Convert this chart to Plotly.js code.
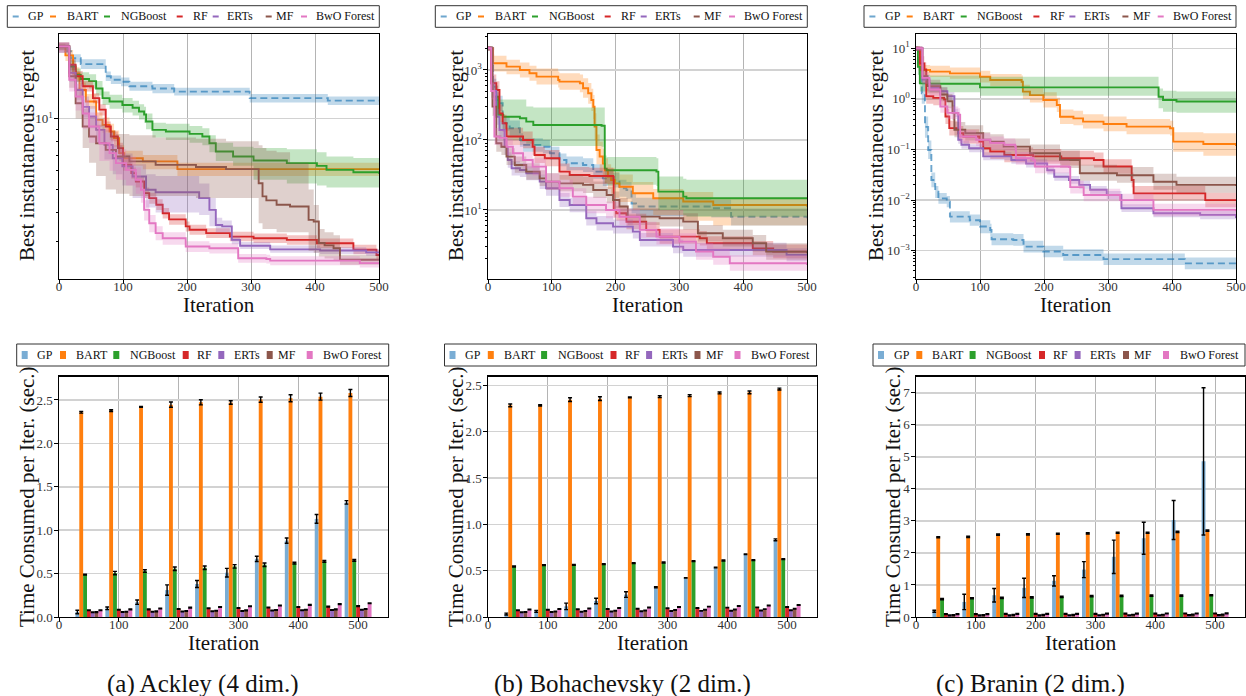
<!DOCTYPE html>
<html><head><meta charset="utf-8">
<script src="https://cdn.plot.ly/plotly-3.0.1.min.js"></script>
<style>html,body{margin:0;padding:0;background:#fff}#chart{width:1246px;height:696px}</style>
</head><body><div id="chart"></div>
<script>
// ---------------- data ----------------
const methods = ['GP','BART','NGBoost','RF','ERTs','MF','BwO Forest'];

// Ackley (4 dim.) best instantaneous regret (step curves: x, mean, lower, upper)
const ack_GP_x  = [0, 10, 19, 34, 73, 81, 97, 110, 146, 180, 298, 420, 500];
const ack_GP_y  = [20.2, 19.3, 18.0, 17.0, 15.1, 14.6, 14.3, 13.7, 13.4, 13.0, 12.2, 11.9, 11.9];
const ack_GP_lo = [19.8, 18.6, 17.3, 16.2, 14.4, 14.0, 13.7, 13.1, 12.8, 12.5, 11.7, 11.4, 11.4];
const ack_GP_hi = [20.6, 20.0, 18.7, 17.8, 15.8, 15.2, 14.9, 14.3, 14.0, 13.5, 12.7, 12.4, 12.4];

const ack_BART_x  = [0, 10, 22, 32, 42, 58, 68, 79, 86, 94, 102, 131, 185, 500];
const ack_BART_y  = [20.2, 18.5, 15.5, 13.2, 11.8, 9.87, 9.40, 8.81, 8.26, 7.13, 6.79, 6.58, 6.10, 6.06];
const ack_BART_lo = [19.6, 17.5, 14.5, 12.3, 11.0, 9.2, 8.7, 8.1, 7.6, 6.6, 6.3, 6.1, 5.7, 5.6];
const ack_BART_hi = [20.8, 19.5, 16.5, 14.2, 12.7, 10.6, 10.1, 9.5, 8.9, 7.7, 7.3, 7.0, 6.5, 6.5];

const ack_NGB_x  = [0, 16, 26, 34, 47, 58, 68, 79, 99, 115, 125, 133, 136, 146, 167, 204, 224, 235, 245, 272, 304, 356, 403, 418, 460, 500];
const ack_NGB_y  = [20.2, 16.6, 15.3, 14.7, 14.4, 13.4, 12.2, 11.8, 11.4, 11.1, 10.7, 10.4, 9.71, 8.95, 8.81, 8.61, 8.39, 7.86, 7.25, 6.90, 6.64, 6.47, 6.30, 6.06, 5.92, 5.83];
const ack_NGB_lo = [19.5, 15.5, 14.3, 13.7, 13.4, 12.5, 11.4, 11.0, 10.6, 10.3, 9.9, 9.6, 9.0, 8.3, 8.1, 7.9, 7.7, 7.2, 6.6, 6.3, 5.5, 5.3, 5.2, 5.1, 5.1, 5.1];
const ack_NGB_hi = [20.6, 17.6, 16.3, 15.7, 15.4, 14.4, 13.0, 12.6, 12.2, 11.9, 11.5, 11.2, 10.5, 9.6, 9.5, 9.3, 9.1, 8.5, 7.9, 7.6, 7.5, 7.4, 7.2, 6.9, 6.8, 6.7];

const ack_RF_x  = [0, 16, 26, 37, 53, 63, 73, 81, 92, 100, 113, 120, 133, 141, 152, 162, 172, 198, 204, 230, 267, 304, 356, 403, 460, 496, 500];
const ack_RF_y  = [20.2, 16.9, 15.1, 13.7, 12.2, 10.9, 9.25, 8.39, 7.49, 6.36, 5.87, 5.41, 4.83, 4.60, 4.31, 3.97, 3.74, 3.49, 3.38, 3.27, 3.16, 3.11, 3.06, 2.96, 2.78, 2.64, 2.64];
const ack_RF_lo = [19.4, 16.0, 14.3, 13.0, 11.6, 10.3, 8.8, 8.0, 7.1, 6.0, 5.55, 5.1, 4.6, 4.35, 4.1, 3.77, 3.55, 3.32, 3.22, 3.12, 3.02, 2.97, 2.92, 2.83, 2.66, 2.53, 2.53];
const ack_RF_hi = [21.0, 17.8, 15.9, 14.4, 12.8, 11.5, 9.7, 8.8, 7.9, 6.7, 6.2, 5.7, 5.1, 4.85, 4.55, 4.18, 3.93, 3.66, 3.55, 3.43, 3.31, 3.26, 3.2, 3.1, 2.92, 2.77, 2.77];

const ack_ERT_x  = [0, 16, 26, 37, 47, 58, 71, 84, 99, 115, 136, 151, 219, 235, 245, 255, 270, 283, 330, 408, 480, 500];
const ack_ERT_y  = [20.2, 15.6, 13.2, 11.2, 10.2, 8.95, 7.73, 6.79, 6.27, 5.68, 4.99, 4.87, 4.60, 4.10, 3.54, 3.49, 3.06, 2.89, 2.79, 2.76, 2.71, 2.71];
const ack_ERT_lo = [19.0, 14.3, 12.0, 10.1, 9.1, 7.9, 6.7, 5.8, 5.2, 4.6, 4.2, 4.0, 3.9, 3.5, 3.3, 3.3, 2.93, 2.8, 2.7, 2.67, 2.62, 2.62];
const ack_ERT_hi = [21.0, 17.0, 14.5, 12.4, 11.3, 10.0, 8.7, 7.7, 7.1, 6.4, 5.8, 5.7, 5.3, 4.6, 3.8, 3.7, 3.18, 3.0, 2.9, 2.85, 2.8, 2.8];

const ack_MF_x  = [0, 16, 26, 37, 47, 58, 73, 89, 110, 151, 214, 261, 312, 318, 324, 340, 361, 390, 398, 406, 415, 429, 439, 500];
const ack_MF_y  = [20.2, 15.1, 11.6, 9.25, 8.39, 7.86, 7.36, 6.90, 6.58, 6.36, 6.23, 6.10, 5.32, 4.68, 4.50, 4.31, 4.24, 3.72, 3.66, 2.97, 2.90, 2.82, 2.52, 2.50];
const ack_MF_lo = [19.0, 13.5, 10.0, 7.5, 6.5, 5.7, 5.0, 4.8, 4.7, 4.7, 4.6, 4.6, 3.6, 3.4, 3.4, 3.3, 3.3, 2.75, 2.7, 2.6, 2.55, 2.5, 2.4, 2.4];
const ack_MF_hi = [21.0, 16.8, 13.5, 11.0, 10.2, 9.4, 8.9, 8.6, 8.5, 8.3, 8.2, 8.0, 7.7, 7.5, 7.3, 7.2, 6.5, 5.0, 4.3, 3.4, 3.3, 3.2, 2.65, 2.62];

const ack_BwO_x  = [0, 16, 26, 37, 47, 63, 79, 89, 105, 120, 128, 133, 141, 151, 162, 198, 235, 280, 324, 330, 470, 500];
const ack_BwO_y  = [20.2, 14.6, 12.4, 10.5, 9.25, 7.86, 7.13, 6.47, 6.06, 5.50, 4.99, 4.10, 3.60, 3.27, 3.11, 2.87, 2.82, 2.56, 2.54, 2.50, 2.44, 2.44];
const ack_BwO_lo = [19.0, 13.0, 10.8, 9.0, 7.9, 6.6, 6.0, 5.5, 5.2, 4.8, 4.4, 3.7, 3.3, 3.05, 2.92, 2.72, 2.68, 2.45, 2.43, 2.39, 2.34, 2.34];
const ack_BwO_hi = [21.0, 16.0, 14.0, 12.0, 10.6, 9.0, 8.2, 7.4, 6.9, 6.2, 5.6, 4.5, 3.9, 3.5, 3.3, 3.02, 2.96, 2.67, 2.65, 2.61, 2.55, 2.55];

// Bohachevsky (2 dim.)
const boh_GP_x  = [0, 8, 13, 18, 23, 34, 50, 55, 86, 97, 112, 123, 149, 165, 180, 196, 206, 217, 225, 232, 350, 381, 500];
const boh_GP_y  = [2050, 577, 373, 334, 173, 147, 100, 85, 80, 64.5, 51.8, 46.4, 44, 35.3, 28.3, 26.8, 20.4, 19.3, 12.4, 11.2, 10.6, 8.0, 7.6];
const boh_GP_lo = [1900, 450, 290, 260, 135, 115, 80, 68, 64, 52, 42, 37, 35, 28, 22, 21, 15.5, 14.5, 9.0, 8.2, 7.8, 6.0, 5.8];
const boh_GP_hi = [2200, 750, 480, 430, 220, 190, 125, 106, 100, 80, 64, 58, 55, 45, 36, 34, 27, 25, 17, 15, 14, 10.5, 10];

const boh_BART_x  = [0, 8, 29, 50, 65, 76, 110, 112, 144, 149, 157, 162, 165, 167, 170, 175, 180, 183, 188, 193, 199, 206, 227, 259, 306, 353, 500];
const boh_BART_y  = [2050, 1245, 1115, 1000, 896, 803, 720, 681, 645, 547, 464, 373, 299, 155, 72, 58, 46, 37, 30, 26.8, 24, 21.5, 17.3, 14.7, 13.2, 11.8, 11.2];
const boh_BART_lo = [1900, 950, 870, 780, 700, 620, 560, 520, 480, 400, 330, 260, 200, 100, 45, 36, 29, 24, 20, 17, 15, 13, 10, 8.5, 7, 6, 5.5];
const boh_BART_hi = [2200, 1600, 1400, 1280, 1150, 1050, 950, 900, 860, 760, 650, 540, 440, 240, 120, 95, 75, 55, 45, 40, 35, 32, 25, 20, 18, 15, 14];

const boh_NGB_x  = [0, 5, 8, 16, 24, 50, 60, 71, 178, 183, 186, 264, 267, 306, 311, 500];
const boh_NGB_y  = [2050, 645, 415, 228, 215, 204, 183, 164, 160, 39, 37, 35.3, 18.3, 15.5, 14.7, 14.3];
const boh_NGB_lo = [1900, 400, 230, 110, 100, 95, 88, 82, 80, 24, 23, 22, 10, 8.5, 8, 7.2];
const boh_NGB_hi = [2200, 900, 600, 380, 380, 380, 300, 290, 290, 60, 57, 55, 30, 28, 27, 27];

const boh_RF_x  = [0, 5, 13, 18, 23, 29, 50, 55, 70, 73, 89, 112, 128, 159, 196, 197, 201, 217, 248, 269, 332, 343, 415, 447, 500];
const boh_RF_y  = [2050, 645, 518, 240, 173, 112, 112, 100, 80, 61, 54.7, 35.3, 31.6, 30.6, 30, 10, 8.96, 6.8, 5.2, 4.16, 3.94, 3.34, 2.83, 2.54, 2.46];
const boh_RF_lo = [1900, 480, 390, 180, 130, 85, 85, 76, 61, 47, 42, 27, 24, 23.5, 23, 7.8, 7.0, 5.3, 4.1, 3.3, 3.1, 2.65, 2.25, 2.05, 2.0];
const boh_RF_hi = [2200, 860, 690, 320, 230, 150, 150, 132, 106, 80, 72, 46, 41, 40, 39, 13, 11.5, 8.8, 6.7, 5.3, 5.0, 4.2, 3.6, 3.2, 3.1];

const boh_ERT_x  = [0, 7, 13, 18, 26, 31, 37, 50, 60, 81, 91, 112, 128, 154, 170, 196, 227, 238, 290, 306, 468, 500];
const boh_ERT_y  = [2050, 500, 215, 139, 80, 51.8, 39.4, 37.3, 33.4, 25.4, 20.4, 13.9, 11.8, 7.6, 6.46, 5.78, 4.9, 3.73, 3.0, 2.68, 2.28, 2.28];
const boh_ERT_lo = [1900, 380, 165, 108, 62, 40, 31, 29.5, 26.5, 20, 16, 11, 9.3, 6.0, 5.1, 4.6, 3.9, 3.0, 2.4, 2.15, 1.85, 1.85];
const boh_ERT_hi = [2200, 660, 280, 180, 104, 67, 50, 47, 42, 32, 26, 17.5, 15, 9.6, 8.2, 7.3, 6.2, 4.7, 3.8, 3.4, 2.85, 2.85];

const boh_MF_x  = [0, 7, 13, 21, 29, 42, 60, 81, 91, 112, 149, 165, 186, 196, 206, 219, 269, 306, 329, 368, 415, 436, 500];
const boh_MF_y  = [2050, 300, 89.6, 80, 57.8, 44, 35.3, 28.3, 25.4, 24, 22.8, 19.3, 16.4, 13.9, 11.2, 8.03, 7.6, 6.81, 4.64, 3.94, 3.34, 2.54, 2.40];
const boh_MF_lo = [1900, 220, 68, 61, 44, 34, 27, 22, 19.5, 18.5, 17.5, 14.8, 12.5, 10.6, 8.5, 6.1, 5.8, 5.2, 3.55, 3.0, 2.55, 1.95, 1.85];
const boh_MF_hi = [2200, 400, 118, 105, 76, 58, 46.5, 37, 33.5, 31.5, 30, 25.5, 21.5, 18.3, 14.8, 10.6, 10, 9.0, 6.1, 5.2, 4.4, 3.35, 3.15];

const boh_BwO_x  = [0, 5, 10, 18, 29, 39, 55, 70, 91, 112, 133, 154, 185, 206, 238, 264, 300, 326, 353, 379, 500];
const boh_BwO_y  = [2050, 500, 112, 107, 80, 64.5, 51.8, 41.6, 25.4, 20.4, 15.5, 11.8, 10, 8.0, 5.2, 4.16, 3.53, 2.54, 2.15, 1.73, 1.64];
const boh_BwO_lo = [1900, 380, 85, 81, 61, 49, 39, 31, 19.5, 15.5, 11.8, 9.0, 7.6, 6.1, 4.0, 3.2, 2.7, 1.95, 1.65, 1.35, 1.28];
const boh_BwO_hi = [2200, 660, 148, 141, 105, 85, 68, 55, 33.5, 27, 20.5, 15.5, 13.2, 10.5, 6.8, 5.5, 4.65, 3.35, 2.85, 2.25, 2.1];

// Branin (2 dim.)
const bra_GP_x  = [0, 4, 9, 14, 19, 24, 30, 35, 48, 53, 84, 100, 116, 118, 152, 168, 199, 230, 293, 420, 500];
const bra_GP_y  = [10, 4.3, 1.29, 0.28, 0.098, 0.025, 0.0147, 0.0108, 0.0093, 0.0047, 0.0040, 0.0030, 0.00257, 0.00168, 0.00163, 0.0012, 0.00096, 0.00082, 0.00068, 0.00056, 0.00056];
const bra_GP_lo = [9, 3.0, 0.8, 0.17, 0.065, 0.018, 0.011, 0.0085, 0.0072, 0.0036, 0.0031, 0.0022, 0.0019, 0.00128, 0.00125, 0.00092, 0.00074, 0.00063, 0.00052, 0.00043, 0.00043];
const bra_GP_hi = [11, 6.0, 2.0, 0.45, 0.15, 0.035, 0.019, 0.0138, 0.012, 0.006, 0.0052, 0.0040, 0.0034, 0.0022, 0.00213, 0.00157, 0.00125, 0.00107, 0.00088, 0.00073, 0.00073];

const bra_BART_x  = [0, 6, 22, 53, 100, 116, 165, 167, 178, 199, 220, 225, 246, 261, 293, 329, 397, 402, 449, 500];
const bra_BART_y  = [10, 3.73, 3.46, 3.2, 2.75, 2.36, 2.19, 1.39, 1.19, 0.95, 0.76, 0.445, 0.413, 0.355, 0.319, 0.283, 0.263, 0.143, 0.128, 0.117];
const bra_BART_lo = [9, 2.9, 2.7, 2.5, 2.1, 1.8, 1.65, 1.0, 0.85, 0.68, 0.55, 0.32, 0.3, 0.26, 0.23, 0.2, 0.19, 0.09, 0.075, 0.067];
const bra_BART_hi = [11, 4.7, 4.5, 4.2, 3.6, 3.1, 2.9, 1.9, 1.65, 1.35, 1.05, 0.62, 0.58, 0.5, 0.45, 0.4, 0.37, 0.22, 0.21, 0.21];

const bra_NGB_x  = [0, 3, 6, 22, 100, 376, 379, 386, 407, 500];
const bra_NGB_y  = [10, 4.3, 2.03, 2.0, 1.69, 1.69, 1.1, 0.95, 0.89, 0.89];
const bra_NGB_lo = [9, 3.0, 1.4, 1.35, 1.15, 1.15, 0.65, 0.56, 0.53, 0.53];
const bra_NGB_hi = [11, 6.0, 3.0, 2.9, 2.75, 2.75, 1.6, 1.45, 1.4, 1.4];

const bra_RF_x  = [0, 6, 13, 16, 27, 44, 46, 52, 66, 74, 99, 105, 116, 138, 183, 227, 278, 293, 334, 337, 340, 452, 500];
const bra_RF_y  = [10, 5.0, 3.8, 1.13, 1.05, 0.97, 0.45, 0.265, 0.21, 0.181, 0.144, 0.106, 0.091, 0.078, 0.073, 0.067, 0.062, 0.046, 0.046, 0.025, 0.0136, 0.010, 0.010];
const bra_RF_lo = [9, 3.6, 2.7, 0.8, 0.75, 0.7, 0.32, 0.19, 0.15, 0.13, 0.103, 0.076, 0.065, 0.056, 0.052, 0.048, 0.044, 0.033, 0.033, 0.018, 0.0097, 0.0072, 0.0072];
const bra_RF_hi = [11, 7.0, 5.3, 1.6, 1.5, 1.36, 0.63, 0.37, 0.29, 0.25, 0.2, 0.15, 0.127, 0.109, 0.102, 0.094, 0.087, 0.064, 0.064, 0.035, 0.019, 0.014, 0.014];

const bra_ERT_x  = [0, 10, 21, 38, 49, 60, 66, 71, 83, 105, 149, 172, 205, 216, 239, 255, 272, 298, 321, 371, 444, 500];
const bra_ERT_y  = [10, 2.42, 1.66, 1.42, 1.13, 0.53, 0.156, 0.124, 0.106, 0.073, 0.062, 0.053, 0.039, 0.029, 0.025, 0.020, 0.016, 0.0126, 0.0069, 0.0055, 0.0051, 0.0044];
const bra_ERT_lo = [9, 2.0, 1.38, 1.18, 0.94, 0.44, 0.13, 0.103, 0.088, 0.061, 0.052, 0.044, 0.032, 0.024, 0.021, 0.0167, 0.0133, 0.0105, 0.0058, 0.0046, 0.0042, 0.0037];
const bra_ERT_hi = [11, 2.9, 2.0, 1.7, 1.36, 0.64, 0.187, 0.149, 0.127, 0.088, 0.074, 0.064, 0.047, 0.035, 0.03, 0.024, 0.019, 0.0151, 0.0083, 0.0066, 0.0061, 0.0053];

const bra_MF_x  = [0, 10, 18, 38, 49, 57, 60, 77, 105, 116, 137, 178, 225, 256, 314, 371, 407, 500];
const bra_MF_y  = [10, 2.8, 1.79, 1.22, 0.9, 0.53, 0.246, 0.21, 0.156, 0.143, 0.114, 0.084, 0.062, 0.034, 0.031, 0.023, 0.020, 0.019];
const bra_MF_lo = [9, 2.1, 1.3, 0.9, 0.65, 0.38, 0.175, 0.15, 0.11, 0.1, 0.08, 0.058, 0.043, 0.024, 0.022, 0.016, 0.014, 0.0135];
const bra_MF_hi = [11, 3.7, 2.4, 1.7, 1.25, 0.75, 0.35, 0.3, 0.22, 0.2, 0.165, 0.125, 0.095, 0.05, 0.045, 0.033, 0.029, 0.027];

const bra_BwO_x  = [0, 10, 21, 38, 49, 66, 69, 94, 116, 138, 155, 156, 183, 186, 239, 241, 262, 319, 371, 500];
const bra_BwO_y  = [10, 2.6, 1.53, 0.71, 0.53, 0.49, 0.181, 0.156, 0.134, 0.124, 0.115, 0.067, 0.062, 0.046, 0.045, 0.018, 0.0126, 0.010, 0.0064, 0.0060];
const bra_BwO_lo = [9, 2.0, 1.15, 0.53, 0.4, 0.37, 0.135, 0.117, 0.1, 0.093, 0.086, 0.05, 0.046, 0.034, 0.034, 0.0135, 0.0095, 0.0075, 0.0048, 0.0045];
const bra_BwO_hi = [11, 3.4, 2.05, 0.95, 0.71, 0.65, 0.24, 0.21, 0.18, 0.165, 0.153, 0.089, 0.083, 0.061, 0.06, 0.024, 0.0168, 0.0133, 0.0085, 0.008];

// Time consumed per iteration (sec.) at these iterations
const barIters = [50, 100, 150, 200, 250, 300, 350, 400, 450, 500];

const ack_t_GP   = [0.058, 0.10, 0.17, 0.31, 0.38, 0.51, 0.67, 0.88, 1.13, 1.32];
const ack_e_GP   = [0.02, 0.015, 0.025, 0.06, 0.04, 0.05, 0.03, 0.03, 0.05, 0.02];
const ack_t_BART = [2.358, 2.377, 2.42, 2.446, 2.473, 2.47, 2.504, 2.519, 2.538, 2.58];
const ack_e_BART = [0.01, 0.01, 0.005, 0.03, 0.03, 0.02, 0.03, 0.04, 0.04, 0.04];
const ack_t_NGB  = [0.487, 0.506, 0.529, 0.556, 0.567, 0.583, 0.602, 0.621, 0.64, 0.652];
const ack_e_NGB  = [0.005, 0.02, 0.015, 0.02, 0.02, 0.02, 0.02, 0.01, 0.01, 0.01];
const ack_t_RF   = [0.077, 0.084, 0.088, 0.092, 0.1, 0.104, 0.11, 0.115, 0.12, 0.125];
const ack_t_ERT  = [0.054, 0.057, 0.06, 0.064, 0.066, 0.07, 0.074, 0.078, 0.08, 0.084];
const ack_t_MF   = [0.056, 0.06, 0.065, 0.07, 0.072, 0.076, 0.08, 0.084, 0.088, 0.092];
const ack_t_BwO  = [0.077, 0.088, 0.098, 0.108, 0.116, 0.124, 0.132, 0.14, 0.148, 0.158];
const ack_e_small = [0.004, 0.004, 0.004, 0.004, 0.004, 0.004, 0.004, 0.004, 0.004, 0.004];

const boh_t_GP   = [0.032, 0.061, 0.115, 0.173, 0.242, 0.321, 0.422, 0.534, 0.678, 0.833];
const boh_e_GP   = [0.01, 0.01, 0.035, 0.03, 0.03, 0.005, 0.003, 0.003, 0.003, 0.01];
const boh_t_BART = [2.284, 2.284, 2.345, 2.356, 2.37, 2.377, 2.388, 2.417, 2.424, 2.46];
const boh_e_BART = [0.015, 0.008, 0.02, 0.02, 0.005, 0.01, 0.01, 0.01, 0.015, 0.01];
const boh_t_NGB  = [0.545, 0.559, 0.563, 0.57, 0.581, 0.588, 0.602, 0.61, 0.613, 0.624];
const boh_e_NGB  = [0.005, 0.005, 0.005, 0.005, 0.005, 0.005, 0.005, 0.005, 0.005, 0.005];
const boh_t_RF   = [0.072, 0.079, 0.083, 0.087, 0.09, 0.094, 0.097, 0.101, 0.104, 0.108];
const boh_t_ERT  = [0.052, 0.055, 0.057, 0.06, 0.062, 0.064, 0.066, 0.068, 0.07, 0.072];
const boh_t_MF   = [0.055, 0.06, 0.064, 0.068, 0.071, 0.075, 0.078, 0.082, 0.085, 0.09];
const boh_t_BwO  = [0.08, 0.086, 0.092, 0.097, 0.103, 0.108, 0.112, 0.118, 0.123, 0.13];
const boh_e_small = [0.003, 0.003, 0.003, 0.003, 0.003, 0.003, 0.003, 0.003, 0.003, 0.003];

const bra_t_GP   = [0.18, 0.47, 0.68, 0.91, 1.13, 1.48, 1.88, 2.46, 3.03, 4.86];
const bra_e_GP   = [0.03, 0.24, 0.21, 0.3, 0.16, 0.25, 0.52, 0.5, 0.61, 2.3];
const bra_t_BART = [2.49, 2.5, 2.57, 2.58, 2.6, 2.61, 2.63, 2.63, 2.66, 2.7];
const bra_e_BART = [0.02, 0.02, 0.02, 0.02, 0.02, 0.02, 0.02, 0.02, 0.02, 0.02];
const bra_t_NGB  = [0.56, 0.585, 0.6, 0.61, 0.63, 0.65, 0.66, 0.665, 0.67, 0.68];
const bra_e_NGB  = [0.02, 0.02, 0.02, 0.02, 0.02, 0.02, 0.02, 0.02, 0.02, 0.02];
const bra_t_RF   = [0.09, 0.09, 0.095, 0.1, 0.1, 0.1, 0.105, 0.105, 0.11, 0.11];
const bra_t_ERT  = [0.05, 0.05, 0.05, 0.05, 0.055, 0.055, 0.055, 0.055, 0.06, 0.06];
const bra_t_MF   = [0.06, 0.06, 0.065, 0.065, 0.065, 0.07, 0.07, 0.07, 0.075, 0.075];
const bra_t_BwO  = [0.09, 0.09, 0.095, 0.1, 0.1, 0.105, 0.105, 0.11, 0.11, 0.115];
const bra_e_small = [0.012, 0.012, 0.012, 0.012, 0.012, 0.012, 0.012, 0.012, 0.012, 0.012];

const captions = ['(a) Ackley (4 dim.)', '(b) Bohachevsky (2 dim.)', '(c) Branin (2 dim.)'];

// ---------------- styling ----------------
const F = 'Liberation Serif, serif';
const W = 1246, H = 696;
const px = x => x / W, py = y => 1 - y / H;
const lineColors = ['rgba(31,119,180,0.65)', '#ff7f0e', '#2ca02c', '#d62728', '#9467bd', '#8c564b', '#e377c2'];
const bandRGB = ['31,119,180', '255,127,14', '44,160,44', '214,39,40', '148,103,189', '140,86,75', '227,119,194'];
const barColors = ['#7aadd4', '#ff7f0e', '#2ca02c', '#d62728', '#9467bd', '#8c564b', '#e377c2'];

const ackSeries = [[ack_GP_x, ack_GP_y, ack_GP_lo, ack_GP_hi], [ack_BART_x, ack_BART_y, ack_BART_lo, ack_BART_hi], [ack_NGB_x, ack_NGB_y, ack_NGB_lo, ack_NGB_hi], [ack_RF_x, ack_RF_y, ack_RF_lo, ack_RF_hi], [ack_ERT_x, ack_ERT_y, ack_ERT_lo, ack_ERT_hi], [ack_MF_x, ack_MF_y, ack_MF_lo, ack_MF_hi], [ack_BwO_x, ack_BwO_y, ack_BwO_lo, ack_BwO_hi]];
const bohSeries = [[boh_GP_x, boh_GP_y, boh_GP_lo, boh_GP_hi], [boh_BART_x, boh_BART_y, boh_BART_lo, boh_BART_hi], [boh_NGB_x, boh_NGB_y, boh_NGB_lo, boh_NGB_hi], [boh_RF_x, boh_RF_y, boh_RF_lo, boh_RF_hi], [boh_ERT_x, boh_ERT_y, boh_ERT_lo, boh_ERT_hi], [boh_MF_x, boh_MF_y, boh_MF_lo, boh_MF_hi], [boh_BwO_x, boh_BwO_y, boh_BwO_lo, boh_BwO_hi]];
const braSeries = [[bra_GP_x, bra_GP_y, bra_GP_lo, bra_GP_hi], [bra_BART_x, bra_BART_y, bra_BART_lo, bra_BART_hi], [bra_NGB_x, bra_NGB_y, bra_NGB_lo, bra_NGB_hi], [bra_RF_x, bra_RF_y, bra_RF_lo, bra_RF_hi], [bra_ERT_x, bra_ERT_y, bra_ERT_lo, bra_ERT_hi], [bra_MF_x, bra_MF_y, bra_MF_lo, bra_MF_hi], [bra_BwO_x, bra_BwO_y, bra_BwO_lo, bra_BwO_hi]];

const ackBars = [[ack_t_GP, ack_e_GP], [ack_t_BART, ack_e_BART], [ack_t_NGB, ack_e_NGB], [ack_t_RF, ack_e_small], [ack_t_ERT, ack_e_small], [ack_t_MF, ack_e_small], [ack_t_BwO, ack_e_small]];
const bohBars = [[boh_t_GP, boh_e_GP], [boh_t_BART, boh_e_BART], [boh_t_NGB, boh_e_NGB], [boh_t_RF, boh_e_small], [boh_t_ERT, boh_e_small], [boh_t_MF, boh_e_small], [boh_t_BwO, boh_e_small]];
const braBars = [[bra_t_GP, bra_e_GP], [bra_t_BART, bra_e_BART], [bra_t_NGB, bra_e_NGB], [bra_t_RF, bra_e_small], [bra_t_ERT, bra_e_small], [bra_t_MF, bra_e_small], [bra_t_BwO, bra_e_small]];

const traces = [];
const axId = n => (n === 1 ? '' : String(n));

function addRegret(series, n) {
  series.forEach((s, i) => {
    const common = {xaxis: 'x' + axId(n), yaxis: 'y' + axId(n), mode: 'lines', hoverinfo: 'skip', showlegend: false};
    traces.push(Object.assign({x: s[0], y: s[2], line: {width: 0, shape: 'hv'}}, common));
    traces.push(Object.assign({x: s[0], y: s[3], line: {width: 0, shape: 'hv'}, fill: 'tonexty', fillcolor: 'rgba(' + bandRGB[i] + ',0.28)'}, common));
    traces.push(Object.assign({x: s[0], y: s[1], name: methods[i], line: {width: 1.9, shape: 'hv', color: lineColors[i], dash: i === 0 ? '7px,4px' : 'solid'}}, common));
  });
}
function addBars(bars, n) {
  bars.forEach((b, i) => {
    traces.push({type: 'bar', x: barIters, y: b[0], name: methods[i], showlegend: false,
      xaxis: 'x' + axId(n), yaxis: 'y' + axId(n),
      marker: {color: barColors[i], line: {width: 0}},
      error_y: {type: 'data', array: b[1], visible: true, color: '#000', thickness: 1.4, width: 2}});
  });
}
addRegret(ackSeries, 1); addRegret(bohSeries, 2); addRegret(braSeries, 3);
addBars(ackBars, 4); addBars(bohBars, 5); addBars(braBars, 6);

// axes
const tickFont = {family: F, size: 13, color: '#333'};
const base = {ticks: 'outside', ticklen: 3.5, tickwidth: 1, tickcolor: '#000', showline: true, mirror: true,
  linecolor: '#000', linewidth: 1.2, zeroline: false, tickfont: tickFont, fixedrange: true, showgrid: true};
function xAx(dom, yname, rng) {
  return Object.assign({}, base, {domain: dom, anchor: yname, range: rng, tickmode: 'array',
    tickvals: [0, 100, 200, 300, 400, 500], gridcolor: '#b4b4b4', gridwidth: 1, ticklabelstandoff: -8});
}
function minorVals(lo, hi) {
  const v = [];
  for (let d = Math.floor(lo); d <= Math.ceil(hi); d++) for (let k = 2; k <= 9; k++) v.push(k * Math.pow(10, d));
  return v;
}
function sup(e) { return '10<sup>' + (e < 0 ? '\u2212' + (-e) : e) + '</sup>'; }
function yLog(dom, xname, rng, exps) {
  return Object.assign({}, base, {domain: dom, anchor: xname, type: 'log', range: rng, tickmode: 'array',
    tickvals: exps.map(e => Math.pow(10, e)), ticktext: exps.map(sup), gridcolor: '#d2d2d2', gridwidth: 1.5,
    ticklabelstandoff: -1,
    minor: {tickmode: 'array', tickvals: minorVals(rng[0], rng[1]), ticks: 'outside', ticklen: 2, tickcolor: '#000', showgrid: false}});
}
function yLin(dom, xname, rng, vals, txt) {
  return Object.assign({}, base, {domain: dom, anchor: xname, range: rng, tickmode: 'array', tickvals: vals, ticktext: txt,
    gridcolor: '#d2d2d2', gridwidth: 1.5, ticklabelstandoff: -1});
}
const topY = [py(279), py(34)], botY = [py(617), py(376.5)];
const colX = [[59, 379], [488, 807], [916, 1236]];
const colXb = [[59, 388], [488, 817], [916, 1245]];
const d = a => [px(a[0]), px(a[1])];

const halfT = [0, 0.5, 1, 1.5, 2, 2.5], halfTxt = ['0.0', '0.5', '1.0', '1.5', '2.0', '2.5'];
const layout = {
  width: W, height: H, margin: {l: 0, r: 0, t: 0, b: 0}, paper_bgcolor: '#fff', plot_bgcolor: '#fff',
  showlegend: false, barmode: 'group', bargap: 0.1, bargroupgap: 0,
  font: {family: F, color: '#222'},
  xaxis: xAx(d(colX[0]), 'y', [0, 500]),
  yaxis: yLog(topY, 'x', [0.3201, 1.3579], [1]),
  xaxis2: xAx(d(colX[1]), 'y2', [0, 500]),
  yaxis2: yLog(topY, 'x2', [0.014, 3.514], [1, 2, 3]),
  xaxis3: xAx(d(colX[2]), 'y3', [0, 500]),
  yaxis3: yLog(topY, 'x3', [-3.56, 1.283], [-3, -2, -1, 0, 1]),
  xaxis4: xAx(d(colXb[0]), 'y4', [0, 550]),
  yaxis4: yLin(botY, 'x4', [0, 2.77], halfT, halfTxt),
  xaxis5: xAx(d(colXb[1]), 'y5', [0, 550]),
  yaxis5: yLin(botY, 'x5', [0, 2.595], halfT, halfTxt),
  xaxis6: xAx(d(colXb[2]), 'y6', [0, 550]),
  yaxis6: yLin(botY, 'x6', [0, 7.51], [0, 1, 2, 3, 4, 5, 6, 7], ['0', '1', '2', '3', '4', '5', '6', '7']),
  annotations: [], shapes: []
};

const ann = (x, y, text, size, extra) => layout.annotations.push(Object.assign({xref: 'paper', yref: 'paper', x: px(x), y: py(y),
  text: text, showarrow: false, font: {family: F, size: size, color: '#111'}, xanchor: 'center', yanchor: 'middle'}, extra || {}));

// axis titles
[27, 456, 876].forEach((x) => ann(x, 156, 'Best instantaneous regret', 21, {textangle: -90}));
[27, 456, 893].forEach((x) => ann(x, 497, 'Time Consumed per Iter. (sec.)', 21, {textangle: -90}));
colX.forEach(c => ann((c[0] + c[1]) / 2, 305, 'Iteration', 21));
colXb.forEach(c => ann((c[0] + c[1]) / 2, 643, 'Iteration', 21));
// captions
[203, 622, 1030].forEach((x, i) => ann(x, 684, captions[i], 25));

// legends
const topLeg = [[5.4, 21], [42.7, 59.4], [96.7, 113.4], [169.4, 186], [205.4, 220], [258.4, 268.7], [293.7, 308.7]];
const botLeg = [[5, 20.6], [43.3, 59.3], [96.6, 113.3], [166, 180], [201.6, 217], [250, 261], [290, 306.6]];
function legend(left, top, bottom, offs, isBar) {
  layout.shapes.push({type: 'rect', xref: 'paper', yref: 'paper', x0: px(left), x1: px(left + 372), y0: py(bottom), y1: py(top),
    line: {color: '#333', width: 1}, fillcolor: '#fff', layer: 'above'});
  const cy = (top + bottom) / 2;
  offs.forEach((o, i) => {
    if (isBar) {
      layout.shapes.push({type: 'rect', xref: 'paper', yref: 'paper', x0: px(left + o[0]), x1: px(left + o[0] + 6),
        y0: py(cy + 4), y1: py(cy - 4), line: {width: 0}, fillcolor: barColors[i], layer: 'above'});
    } else {
      layout.shapes.push({type: 'line', xref: 'paper', yref: 'paper', x0: px(left + o[0]), x1: px(left + o[0] + 6),
        y0: py(cy), y1: py(cy), line: {color: lineColors[i], width: 2}, layer: 'above'});
    }
    ann(left + o[1] - 2, cy, methods[i], 12, {xanchor: 'left'});
  });
}
legend(7.3, 5.7, 27.3, topLeg, false);
legend(435.3, 5.7, 27.3, topLeg, false);
legend(864, 5.7, 27.3, topLeg, false);
legend(16.7, 344, 366, botLeg, true);
legend(444.5, 344, 366, botLeg, true);
legend(873, 344, 366, botLeg, true);

Plotly.newPlot('chart', traces, layout, {staticPlot: true, displayModeBar: false});
</script>
</body></html>
